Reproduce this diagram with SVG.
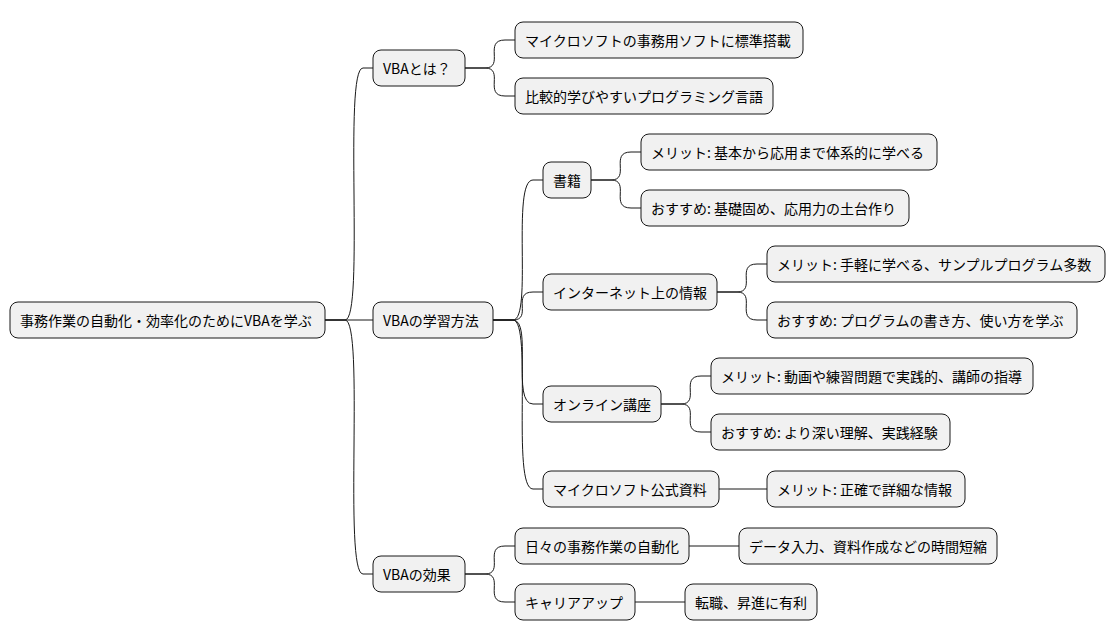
<svg xmlns="http://www.w3.org/2000/svg" width="1115" height="640" viewBox="0 0 1115 640">
<style>
rect{fill:#f1f1f1;stroke:#181818;stroke-width:1}
text{font-family:"Noto Sans CJK JP","Liberation Sans",sans-serif;font-size:14px;fill:#000;dominant-baseline:central}
path{fill:none;stroke:#181818;stroke-width:1}
</style>
<rect width="1115" height="640" fill="#fff" style="fill:#fff;stroke:none"/>
<g id="connectors">
<path d="M325,320 H345 C365,320 343,68 363,68 H373"/>
<path d="M325,320 H373"/>
<path d="M325,320 H345 C365,320 343,574 363,574 H373"/>
<path d="M465,68 H485 C505,68 483,40 505,40 H515"/>
<path d="M465,68 H485 C505,68 483,96 505,96 H515"/>
<path d="M493,320 H513 C533,320 511,180 533,180 H543"/>
<path d="M493,320 H513 C533,320 511,292 533,292 H543"/>
<path d="M493,320 H513 C533,320 511,404 533,404 H543"/>
<path d="M493,320 H513 C533,320 511,489 533,489 H543"/>
<path d="M591,180 H611 C631,180 609,152 631,152 H641"/>
<path d="M591,180 H611 C631,180 609,208 631,208 H641"/>
<path d="M717,292 H737 C757,292 735,264 757,264 H767"/>
<path d="M717,292 H737 C757,292 735,320 757,320 H767"/>
<path d="M661,404 H681 C701,404 679,376 701,376 H711"/>
<path d="M661,404 H681 C701,404 679,432 701,432 H711"/>
<path d="M719,489 H767"/>
<path d="M465,574 H485 C505,574 483,546 505,546 H515"/>
<path d="M465,574 H485 C505,574 483,602 505,602 H515"/>
<path d="M689,546 H739"/>
<path d="M635,602 H685"/>
</g>
<g id="root"><rect x="10" y="302" width="315" height="36" rx="8"/><text x="20" y="320">事務作業の自動化・効率化のためにVBAを学ぶ</text></g>
<g id="n1"><rect x="373" y="50" width="92" height="36" rx="8"/><text x="383" y="68">VBAとは？</text></g>
<g id="n11"><rect x="515" y="22" width="288" height="36" rx="8"/><text x="525" y="40">マイクロソフトの事務用ソフトに標準搭載</text></g>
<g id="n12"><rect x="515" y="78" width="258" height="36" rx="8"/><text x="525" y="96">比較的学びやすいプログラミング言語</text></g>
<g id="n2"><rect x="373" y="302" width="120" height="36" rx="8"/><text x="383" y="320">VBAの学習方法</text></g>
<g id="n21"><rect x="543" y="162" width="48" height="36" rx="8"/><text x="553" y="180">書籍</text></g>
<g id="n211"><rect x="641" y="134" width="296" height="36" rx="8"/><text x="651" y="152">メリット: 基本から応用まで体系的に学べる</text></g>
<g id="n212"><rect x="641" y="190" width="268" height="36" rx="8"/><text x="651" y="208">おすすめ: 基礎固め、応用力の土台作り</text></g>
<g id="n22"><rect x="543" y="274" width="174" height="36" rx="8"/><text x="553" y="292">インターネット上の情報</text></g>
<g id="n221"><rect x="767" y="246" width="338" height="36" rx="8"/><text x="777" y="264">メリット: 手軽に学べる、サンプルプログラム多数</text></g>
<g id="n222"><rect x="767" y="302" width="310" height="36" rx="8"/><text x="777" y="320">おすすめ: プログラムの書き方、使い方を学ぶ</text></g>
<g id="n23"><rect x="543" y="386" width="118" height="36" rx="8"/><text x="553" y="404">オンライン講座</text></g>
<g id="n231"><rect x="711" y="358" width="322" height="36" rx="8"/><text x="721" y="376">メリット: 動画や練習問題で実践的、講師の指導</text></g>
<g id="n232"><rect x="711" y="414" width="239" height="36" rx="8"/><text x="721" y="432">おすすめ: より深い理解、実践経験</text></g>
<g id="n24"><rect x="543" y="471" width="176" height="36" rx="8"/><text x="553" y="489">マイクロソフト公式資料</text></g>
<g id="n241"><rect x="767" y="471" width="198" height="36" rx="8"/><text x="777" y="489">メリット: 正確で詳細な情報</text></g>
<g id="n3"><rect x="373" y="556" width="92" height="36" rx="8"/><text x="383" y="574">VBAの効果</text></g>
<g id="n31"><rect x="515" y="528" width="174" height="36" rx="8"/><text x="525" y="546">日々の事務作業の自動化</text></g>
<g id="n311"><rect x="739" y="528" width="258" height="36" rx="8"/><text x="749" y="546">データ入力、資料作成などの時間短縮</text></g>
<g id="n32"><rect x="515" y="584" width="120" height="36" rx="8"/><text x="525" y="602">キャリアアップ</text></g>
<g id="n321"><rect x="685" y="584" width="132" height="36" rx="8"/><text x="695" y="602">転職、昇進に有利</text></g>
</svg>
